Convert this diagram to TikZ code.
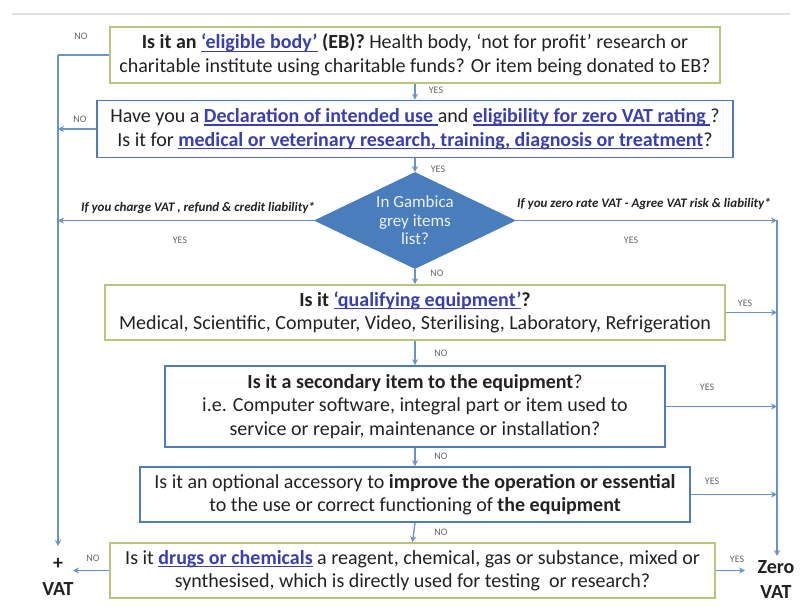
\documentclass[tikz,border=0pt]{standalone}
\usepackage{fontspec}
\setmainfont{Carlito}
\usetikzlibrary{arrows.meta,shapes.geometric}
\definecolor{boxgreen}{HTML}{B4C77C}
\definecolor{boxblue}{HTML}{4F7CB8}
\definecolor{linecol}{HTML}{6A93C8}
\definecolor{linkcol}{HTML}{3A3FB0}
\definecolor{txt}{HTML}{222222}
\definecolor{lbl}{HTML}{666666}
\definecolor{diafill}{HTML}{4A7DBC}
% underlined link text: the rule is laid under the box of the words
\newsavebox\lnkbox
\newcommand\lnk[1]{\textcolor{linkcol}{\sbox\lnkbox{#1}\rlap{\rule[-3pt]{\wd\lnkbox}{1.3pt}}\usebox\lnkbox}}
\begin{document}
\begin{tikzpicture}[x=1pt,y=-1pt,
  qbox/.style={rectangle,line width=1.6pt,fill=white,align=center,inner sep=0pt,
    text=txt,font=\fontsize{20}{23.5}\selectfont},
  gbox/.style={qbox,draw=boxgreen},
  bbox/.style={qbox,draw=boxblue},
  conn/.style={draw=linecol,line width=1.3pt},
  arr/.style={conn,-{Stealth[length=6pt,width=6pt]}},
  yn/.style={text=lbl,font=\fontsize{10}{11}\selectfont,inner sep=0pt},
  note/.style={text=txt,font=\fontsize{13}{14}\selectfont\bfseries\itshape,inner sep=0pt},
  result/.style={text=txt,font=\fontsize{20}{22}\selectfont\bfseries,inner sep=0pt,align=center}]
\useasboundingbox (0,0) rectangle (800,612);
\fill[white] (0,0) rectangle (800,612);
% thin rule across the top
\coordinate (ruleL) at (12,14);
\coordinate (ruleR) at (790,14);
\draw[black!12,line width=1.5pt] (ruleL) -- (ruleR);

% question boxes
\node[gbox,minimum width=610,minimum height=56] (b1) at (415,55)
  {\textbf{Is it an \lnk{‘eligible body’} (EB)?} Health body, ‘not for profit’ research or\\
   charitable institute using charitable funds? Or item being donated to EB?};
\node[bbox,minimum width=636,minimum height=57] (b2) at (415,129)
  {Have you a \lnk{\textbf{Declaration of intended use }}and \lnk{\textbf{eligibility for zero VAT rating }}?\\
   Is it for \lnk{\textbf{medical or veterinary research, training, diagnosis or treatment}}?};
\node[diamond,aspect=2.08,draw=diafill,fill=diafill,line width=1pt,minimum width=200,minimum height=96,
  inner sep=0pt,align=center,text=white!90!diafill,
  font=\fontsize{17}{18.5}\selectfont] (d) at (415,220.5)
  {In Gambica\\grey items\\list?};
\node[gbox,minimum width=620,minimum height=55] (b3) at (415,312.5)
  {\textbf{Is it \lnk{‘qualifying equipment’}?}\\
   Medical, Scientific, Computer, Video, Sterilising, Laboratory, Refrigeration};
\node[bbox,minimum width=500,minimum height=81] (b4) at (415,406.5)
  {\textbf{Is it a secondary item to the equipment}?\\
   i.e. Computer software, integral part or item used to\\
   service or repair, maintenance or installation?};
\node[bbox,minimum width=550,minimum height=55] (b5) at (415,494.5)
  {Is it an optional accessory to \textbf{improve the operation or essential}\\
   to the use or correct functioning of \textbf{the equipment}};
\node[gbox,minimum width=605,minimum height=55] (b6) at (412.5,570.5)
  {Is it \lnk{\textbf{drugs or chemicals}} a reagent, chemical, gas or substance, mixed or\\
   synthesised, which is directly used for testing\ \ or research?};

% outcomes
\node[result] (plus) at (58,564) {+};
\node[result] (vat) at (58,589) {VAT};
\node[result] (zero) at (776,567) {Zero};
\node[result] (zvat) at (776,592) {VAT};

% rails to the outcomes
\coordinate (lTop) at (58,55);
\coordinate (lEnd) at (58,546);
\coordinate (rTop) at (777,220.5);
\coordinate (rEnd) at (777,556);
\coordinate (l2) at (58,129);
\coordinate (ld) at (58,220.5);
\coordinate (rd) at (777,220.5);
\coordinate (r3) at (777,312.5);
\coordinate (r4) at (777,406.5);
\coordinate (r5) at (777,494.5);
\coordinate (l6) at (73,570.5);
\coordinate (r6) at (745,570.5);

\draw[conn] (b1.west) -- (lTop);
\draw[arr] (lTop) -- (lEnd);
\draw[arr] (rTop) -- (rEnd);

% main flow
\draw[arr] (b1.south) -- (b2.north);
\draw[arr] (b2.south) -- (d.north);
\draw[arr] (d.south) -- (b3.north);
\draw[arr] (b3.south) -- (b4.north);
\draw[arr] (b4.south) -- (b5.north);
\draw[arr] (b5.south) -- (b6.north);

% branches
\draw[arr] (b2.west) -- (l2);
\draw[arr] (d.west) -- (ld);
\draw[arr] (d.east) -- (rd);
\draw[arr] (b3.east) -- (r3);
\draw[arr] (b4.east) -- (r4);
\draw[arr] (b5.east) -- (r5);
\draw[arr] (b6.west) -- (l6);
\draw[arr] (b6.east) -- (r6);

% branch labels
\node[yn] (n1) at (81,36) {NO};
\node[yn] (y1) at (436,90) {YES};
\node[yn] (n2) at (80,119) {NO};
\node[yn] (y2) at (438,169) {YES};
\node[note] (cl) at (198,208) {If you charge VAT , refund \& credit liability*};
\node[note] (cr) at (644,204) {If you zero rate VAT - Agree VAT risk \& liability*};
\node[yn] (yl) at (180,240) {YES};
\node[yn] (yr) at (631,240) {YES};
\node[yn] (nd) at (437,273) {NO};
\node[yn] (y3) at (745,303) {YES};
\node[yn] (n3) at (441,353) {NO};
\node[yn] (y4) at (707,387) {YES};
\node[yn] (n4) at (441,456) {NO};
\node[yn] (y5) at (712,481) {YES};
\node[yn] (n5) at (441,532) {NO};
\node[yn] (n6) at (93,558) {NO};
\node[yn] (y6) at (737,559) {YES};
\end{tikzpicture}
\end{document}
